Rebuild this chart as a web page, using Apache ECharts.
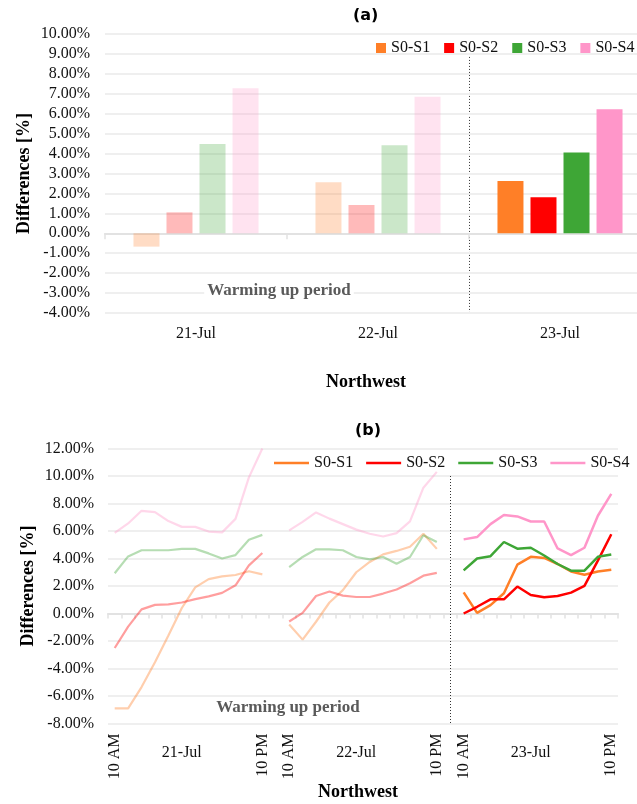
<!DOCTYPE html>
<html>
<head>
<meta charset="utf-8">
<script src="https://cdn.jsdelivr.net/npm/echarts/dist/echarts.min.js"></script>
<style>
  html, body { margin: 0; padding: 0; background: #fff; }
  #chart { width: 637px; height: 804px; }
</style>
</head>
<body>
<div id="chart"></div>
<script>
  // (a) daily differences
  const barDays = ['21-Jul', '22-Jul', '23-Jul'];
  const barS1 = [-0.67, 2.56, 2.62];
  const barS2 = [1.05, 1.42, 1.81];
  const barS3 = [4.48, 4.42, 4.06];
  const barS4 = [7.28, 6.85, 6.22];

  // (b) hourly differences, 12 readings per day
  const lineDays = ['21-Jul', '22-Jul', '23-Jul'];
  const hourLabels = ['10 AM', '', '', '', '', '', '', '', '', '', '', '10 PM'];
  const s1Jul21 = [-6.9, -6.9, -5.35, -3.55, -1.6, 0.4, 1.9, 2.5, 2.7, 2.8, 3.07, 2.85];
  const s1Jul22 = [-0.8, -1.9, -0.6, 0.8, 1.7, 3.0, 3.75, 4.3, 4.55, 4.85, 5.8, 4.7];
  const s1Jul23 = [1.54, 0.05, 0.61, 1.47, 3.55, 4.12, 4.04, 3.6, 3.06, 2.82, 3.06, 3.19];
  const s2Jul21 = [-2.51, -0.95, 0.3, 0.63, 0.66, 0.8, 1.05, 1.25, 1.5, 2.05, 3.5, 4.4];
  const s2Jul22 = [-0.58, 0.05, 1.27, 1.6, 1.3, 1.2, 1.2, 1.45, 1.75, 2.2, 2.75, 2.95];
  const s2Jul23 = [0, 0.49, 1.03, 1.03, 1.96, 1.35, 1.18, 1.27, 1.52, 2.01, 3.85, 5.76];
  const s3Jul21 = [2.93, 4.15, 4.6, 4.6, 4.6, 4.7, 4.7, 4.37, 4.0, 4.25, 5.37, 5.72];
  const s3Jul22 = [3.38, 4.11, 4.67, 4.67, 4.6, 4.11, 3.94, 4.11, 3.62, 4.11, 5.69, 5.2];
  const s3Jul23 = [3.14, 4.0, 4.17, 5.2, 4.71, 4.78, 4.22, 3.6, 3.11, 3.11, 4.12, 4.29];
  const s4Jul21 = [5.87, 6.55, 7.47, 7.37, 6.72, 6.3, 6.3, 5.96, 5.9, 6.88, 9.9, 12.0];
  const s4Jul22 = [6.05, 6.66, 7.35, 6.9, 6.5, 6.1, 5.8, 5.6, 5.85, 6.7, 9.15, 10.3];
  const s4Jul23 = [5.39, 5.56, 6.5, 7.16, 7.06, 6.69, 6.69, 4.73, 4.24, 4.78, 7.11, 8.7];

  const names = ['S0-S1', 'S0-S2', 'S0-S3', 'S0-S4'];
  const colors = ['#ff7f27', '#ff0000', '#3ea636', '#ff96c9'];
  const warmupDays = 2;

  const serif = 'Liberation Serif';
  const pct = v => v.toFixed(2) + '%';

  // category slots for (b): 12 hours per day, one empty slot between days
  const hourCats = [], hourText = [], dayText = [];
  lineDays.forEach((day, k) => {
    hourLabels.forEach((h, i) => {
      hourCats.push(day + ' ' + i);
      hourText.push(h);
      dayText.push(i === 5 ? day : '');
    });
    if (k < lineDays.length - 1) {
      hourCats.push(day + ' gap');
      hourText.push('');
      dayText.push('');
    }
  });
  const lineParts = [
    [s1Jul21, s1Jul22, s1Jul23],
    [s2Jul21, s2Jul22, s2Jul23],
    [s3Jul21, s3Jul22, s3Jul23],
    [s4Jul21, s4Jul22, s4Jul23]
  ];
  const blank = arr => arr.map(() => null);
  const warmupLine = p => p[0].concat([null], p[1], [null], blank(p[2]));
  const lastLine = p => blank(p[0]).concat([null], blank(p[1]), [null], p[2]);
  const dividerCat = hourCats[hourCats.length - hourLabels.length - 1];

  const barValues = [barS1, barS2, barS3, barS4];

  const series = [];
  barValues.forEach((vals, k) => {
    series.push({
      name: names[k],
      type: 'bar',
      xAxisIndex: 0,
      yAxisIndex: 0,
      barWidth: 26,
      barGap: '27%',
      itemStyle: { color: colors[k] },
      data: vals.map((v, i) => ({ value: v, itemStyle: { opacity: i < warmupDays ? 0.27 : 1 } }))
    });
  });
  lineParts.forEach((p, k) => {
    series.push({
      name: names[k],
      type: 'line',
      xAxisIndex: 2,
      yAxisIndex: 1,
      symbol: 'none',
      connectNulls: false,
      lineStyle: { color: colors[k], width: 2.5 },
      itemStyle: { color: colors[k] },
      data: lastLine(p),
      markLine: k === 0 ? {
        symbol: 'none',
        silent: true,
        label: { show: false },
        lineStyle: { type: [1, 2], color: '#333', width: 1 },
        data: [[{ coord: [dividerCat, 10] }, { coord: [dividerCat, -8] }]]
      } : undefined
    });
  });
  lineParts.forEach((p, k) => {
    series.push({
      name: names[k] + ' warm-up',
      type: 'line',
      xAxisIndex: 2,
      yAxisIndex: 1,
      symbol: 'none',
      connectNulls: false,
      lineStyle: { color: colors[k], width: 2.2, opacity: 0.38 },
      itemStyle: { color: colors[k] },
      data: warmupLine(p)
    });
  });

  const gridLine = { show: true, lineStyle: { color: '#efefef', width: 2 } };
  const zeroLine = { show: true, onZero: true, lineStyle: { color: '#e2e2e2', width: 2 } };
  const noteStyle = {
    text: 'Warming up period', font: 'bold 17px "Liberation Serif"', fill: '#5a5a5a',
    align: 'center', verticalAlign: 'middle', backgroundColor: '#fff', padding: [1, 3]
  };

  const chart = echarts.init(document.getElementById('chart'));
  chart.setOption({
    animation: false,
    backgroundColor: '#fff',
    title: [
      { text: '(a)', left: 353, top: 8, padding: 0,
        textStyle: { fontFamily: 'DejaVu Sans', fontWeight: 'bold', fontSize: 16, color: '#000' } },
      { text: '(b)', left: 355, top: 423, padding: 0,
        textStyle: { fontFamily: 'DejaVu Sans', fontWeight: 'bold', fontSize: 16, color: '#000' } }
    ],
    legend: [
      {
        left: 376, top: 40, width: 300, padding: 0,
        itemWidth: 10, itemHeight: 10, itemGap: 14,
        textStyle: { fontFamily: serif, fontSize: 16, color: '#111' },
        data: names.map((n, k) => ({ name: n, icon: 'rect', itemStyle: { color: colors[k] } }))
      },
      {
        left: 274, top: 455, width: 400, padding: 0,
        itemWidth: 35, itemHeight: 2.5, itemGap: 13,
        textStyle: { fontFamily: serif, fontSize: 16, color: '#111' },
        data: names.map((n, k) => ({ name: n, icon: 'rect', itemStyle: { color: colors[k] } }))
      }
    ],
    grid: [
      { left: 105, right: -14, top: 34, height: 279, outerBoundsMode: 'none' },
      { left: 108, right: 19, top: 448.5, height: 275, outerBoundsMode: 'none' }
    ],
    xAxis: [
      { // (a) zero line with ticks
        type: 'category', gridIndex: 0, data: barDays,
        axisLine: zeroLine,
        axisTick: { show: true, length: 6, lineStyle: { color: '#e2e2e2', width: 1.5 } },
        axisLabel: { show: false }
      },
      { // (a) day labels at the bottom
        type: 'category', gridIndex: 0, data: barDays, position: 'bottom',
        axisLine: { show: false, onZero: false },
        axisTick: { show: false },
        axisLabel: { margin: 13, fontFamily: serif, fontSize: 16, color: '#111' }
      },
      { // (b) zero line with ticks
        type: 'category', gridIndex: 1, data: hourCats,
        axisLine: zeroLine,
        axisTick: { show: true, interval: 0, length: 5, lineStyle: { color: '#e2e2e2', width: 1.5 } },
        axisLabel: { show: false }
      },
      { // (b) hour labels
        type: 'category', gridIndex: 1, data: hourCats, position: 'bottom',
        axisLine: { show: false, onZero: false },
        axisTick: { show: false },
        axisLabel: {
          interval: 0, rotate: 90, margin: 10,
          fontFamily: serif, fontSize: 16, color: '#111',
          formatter: (v, i) => hourText[i]
        }
      },
      { // (b) day labels
        type: 'category', gridIndex: 1, data: hourCats, position: 'bottom',
        axisLine: { show: false, onZero: false },
        axisTick: { show: false },
        axisLabel: {
          interval: 0, margin: 21,
          fontFamily: serif, fontSize: 16, color: '#111',
          formatter: (v, i) => dayText[i]
        }
      }
    ],
    yAxis: [
      {
        type: 'value', gridIndex: 0, min: -4, max: 10, interval: 1,
        name: 'Differences [%]', nameLocation: 'middle', nameGap: 72, nameMoveOverlap: false,
        nameTextStyle: { fontFamily: serif, fontWeight: 'bold', fontSize: 18, color: '#000' },
        axisLine: { show: false }, axisTick: { show: false },
        axisLabel: { margin: 15, fontFamily: serif, fontSize: 16, color: '#111', formatter: pct },
        splitLine: gridLine
      },
      {
        type: 'value', gridIndex: 1, min: -8, max: 12, interval: 2,
        name: 'Differences [%]', nameLocation: 'middle', nameGap: 71, nameMoveOverlap: false,
        nameTextStyle: { fontFamily: serif, fontWeight: 'bold', fontSize: 18, color: '#000' },
        axisLine: { show: false }, axisTick: { show: false },
        axisLabel: { margin: 14, fontFamily: serif, fontSize: 16, color: '#111', formatter: pct },
        splitLine: gridLine
      }
    ],
    graphic: [
      { id: 'warmA', type: 'text', x: 279, y: 291, z: 50, style: noteStyle },
      { id: 'warmB', type: 'text', x: 288, y: 708, z: 50, style: noteStyle },
      { id: 'nwA', type: 'text', x: 366, y: 382,
        style: { text: 'Northwest', font: 'bold 18px "Liberation Serif"', fill: '#000', align: 'center', verticalAlign: 'middle' } },
      { id: 'nwB', type: 'text', x: 358, y: 792,
        style: { text: 'Northwest', font: 'bold 18px "Liberation Serif"', fill: '#000', align: 'center', verticalAlign: 'middle' } }
    ],
    series: series
  });

  // dotted divider between the warm-up days and 23-Jul in (a)
  const xa = chart.convertToPixel({ xAxisIndex: 0 }, barDays[warmupDays - 1]);
  const xb = chart.convertToPixel({ xAxisIndex: 0 }, barDays[warmupDays]);
  const yTop = chart.convertToPixel({ yAxisIndex: 0 }, 9);
  const yBot = chart.convertToPixel({ yAxisIndex: 0 }, -4);
  const xm = Math.round((xa + xb) / 2) + 0.5;
  chart.setOption({
    graphic: [{
      id: 'dividerA', type: 'line', silent: true,
      shape: { x1: xm, y1: yTop, x2: xm, y2: yBot },
      style: { stroke: '#333', lineWidth: 1, lineDash: [1, 2] }
    }]
  });
</script>
</body>
</html>
